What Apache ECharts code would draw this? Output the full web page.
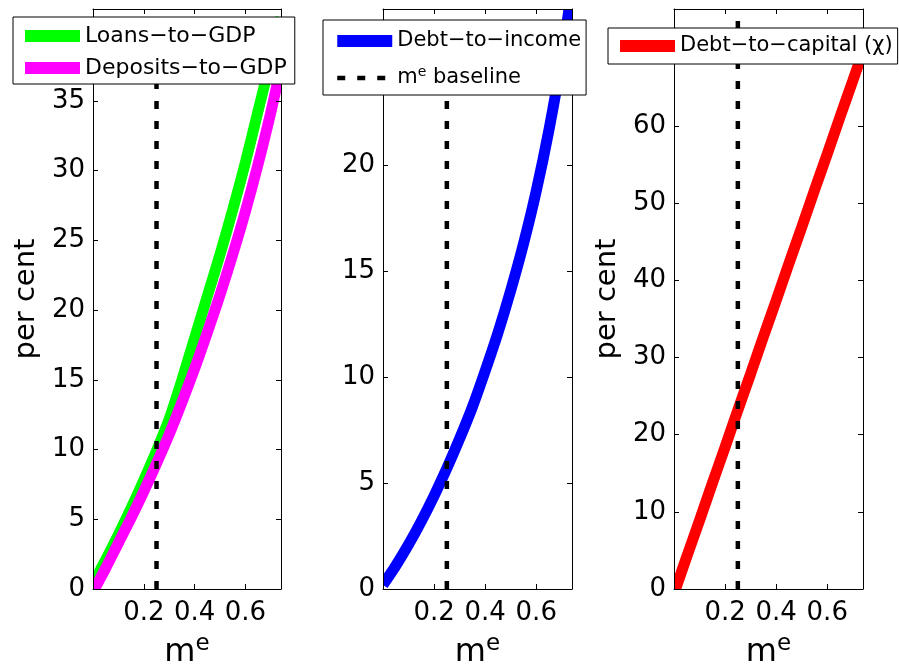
<!DOCTYPE html>
<html><head><meta charset="utf-8">
<script src="https://cdn.jsdelivr.net/npm/echarts@6/dist/echarts.min.js"></script>
<style>html,body{margin:0;padding:0;background:#fff}#c{width:899px;height:670px}</style>
</head><body><div id="c"></div>
<script>
// m^e values where the curves were read
const mValues = [0, 0.05, 0.1, 0.15, 0.2, 0.25, 0.3, 0.35, 0.4, 0.45, 0.5, 0.55, 0.6, 0.65, 0.7, 0.74];
const loansToGDP    = [0.4, 2.1, 3.9, 5.8, 7.8, 9.9, 12.2, 15.0, 18.0, 21.0, 24.0, 27.2, 30.6, 34.3, 38.0, 41.0];
const depositsToGDP = [-0.2, 1.5, 3.3, 5.1, 7.0, 9.0, 11.1, 13.4, 15.8, 18.4, 21.1, 24.0, 27.1, 30.5, 34.2, 37.5];
const debtToIncome  = [0.2, 1.1, 2.1, 3.2, 4.4, 5.7, 7.1, 8.6, 10.3, 12.1, 14.1, 16.3, 18.8, 21.7, 25.1, 28.4];
const debtToCapital = [-0.6, 4.2, 8.9, 13.7, 18.4, 23.2, 27.9, 32.7, 37.4, 42.2, 46.9, 51.7, 56.4, 61.2, 65.9, 69.7];
const mBaseline = 0.25;

// tick labels
const xTickLabels = [0.2, 0.4, 0.6];
const yTickLabels = [
  [0, 5, 10, 15, 20, 25, 30, 35],
  [0, 5, 10, 15, 20],
  [0, 10, 20, 30, 40, 50, 60]
];
const xMax = 0.74;
const yMax = [41.6, 27.4, 75.2];
const yInterval = [5, 5, 10];

const names = {
  loans: 'Loans\u2212to\u2212GDP',
  deposits: 'Deposits\u2212to\u2212GDP',
  income: 'Debt\u2212to\u2212income',
  capital: 'Debt\u2212to\u2212capital (\u03c7)',
  baseline: 'me baseline'
};

const FONT = 'DejaVu Sans';
const grids = [
  {left: 93, top: 9, width: 188, height: 580},
  {left: 383, top: 9, width: 189, height: 580},
  {left: 674, top: 9, width: 189, height: 580}
];

const xAxes = [], yAxes = [];
grids.forEach((g, i) => {
  ['bottom', 'top'].forEach(pos => {
    xAxes.push({
      type: 'value', gridIndex: i, position: pos, min: 0, max: xMax, interval: 0.2, z: 60,
      axisLine: {show: true, onZero: false, lineStyle: {color: '#000', width: 1}},
      axisTick: {show: true, inside: true, length: 5, lineStyle: {color: '#000'}},
      axisLabel: pos === 'bottom' ? {
        show: true, color: '#000', fontFamily: FONT, fontSize: 26, margin: 11,
        formatter: v => xTickLabels.some(t => Math.abs(t - v) < 1e-6) ? v.toFixed(1) : ''
      } : {show: false},
      splitLine: {show: false},
      name: pos === 'bottom' ? '{m|m}{e|e}' : '',
      nameLocation: 'middle', nameGap: 44,
      nameTextStyle: {
        color: '#000', fontFamily: FONT,
        rich: {
          m: {fontSize: 32, lineHeight: 40, fontFamily: FONT, color: '#000'},
          e: {fontSize: 23, lineHeight: 20, verticalAlign: 'top', fontFamily: FONT, color: '#000'}
        }
      }
    });
  });
  ['left', 'right'].forEach(pos => {
    yAxes.push({
      type: 'value', gridIndex: i, position: pos, min: 0, max: yMax[i], interval: yInterval[i], z: 60,
      axisLine: {show: true, onZero: false, lineStyle: {color: '#000', width: 1}},
      axisTick: {show: true, inside: true, length: 5, lineStyle: {color: '#000'}},
      axisLabel: pos === 'left' ? {
        show: true, color: '#000', fontFamily: FONT, fontSize: 26, margin: 8,
        formatter: v => yTickLabels[i].includes(v) ? String(v) : ''
      } : {show: false},
      splitLine: {show: false},
      name: (pos === 'left' && i !== 1) ? 'per cent' : '',
      nameLocation: 'middle', nameGap: 52,
      nameTextStyle: {color: '#000', fontFamily: FONT, fontSize: 29}
    });
  });
});

function pairs(vals) { return mValues.map((m, k) => [m, vals[k]]); }
function lineSeries(name, vals, color, panel) {
  return {
    type: 'line', name, data: pairs(vals), xAxisIndex: panel * 2, yAxisIndex: panel * 2,
    showSymbol: false, symbol: 'none', smooth: 0.3, clip: true, z: 2,
    lineStyle: {color, width: 11}, itemStyle: {color}
  };
}
function baselineSeries(panel) {
  return {
    type: 'line', name: names.baseline, data: [[mBaseline, 0], [mBaseline, yMax[panel]]],
    xAxisIndex: panel * 2, yAxisIndex: panel * 2, showSymbol: false, symbol: 'none', clip: true,
    lineStyle: {color: '#000', width: 4.5, type: [8, 12]}, itemStyle: {color: '#000'}, z: 3
  };
}

const series = [
  lineSeries(names.loans, loansToGDP, '#00ff00', 0),
  lineSeries(names.deposits, depositsToGDP, '#ff00ff', 0),
  baselineSeries(0),
  lineSeries(names.income, debtToIncome, '#0000ff', 1),
  baselineSeries(1),
  lineSeries(names.capital, debtToCapital, '#ff0000', 2),
  baselineSeries(2)
];

// white strips just outside each plot box, so thick lines are cut at the axes
const masks = [];
grids.forEach(g => {
  const pad = 7;
  const r = g.left + g.width, b = g.top + g.height;
  const t0 = Math.max(0, g.top - pad);
  [[g.left - pad, t0, g.width + 2 * pad, g.top - t0],
   [g.left - pad, b, g.width + 2 * pad, pad],
   [g.left - pad, t0, pad, b + pad - t0],
   [r, t0, pad, b + pad - t0]].forEach(s => masks.push({
    type: 'rect', z: 50, zlevel: 0, silent: true,
    shape: {x: s[0], y: s[1], width: s[2], height: s[3]},
    style: {fill: '#fff'}
  }));
});

const legendCommon = {
  orient: 'vertical', itemWidth: 55, itemHeight: 12,
  backgroundColor: '#fff', borderColor: '#000', borderWidth: 1, borderRadius: 0,
  selectedMode: false, z: 70
};

const option = {
  animation: false,
  backgroundColor: '#fff',
  grid: grids.map(g => Object.assign({containLabel: false, outerBoundsMode: 'none'}, g)),
  xAxis: xAxes,
  yAxis: yAxes,
  graphic: {elements: masks},
  legend: [
    Object.assign({}, legendCommon, {
      data: [{name: names.loans, icon: 'rect'}, {name: names.deposits, icon: 'rect'}],
      left: 13, top: 17, itemGap: 6, padding: [6, 8, 3, 12],
      textStyle: {fontFamily: FONT, fontSize: 22, color: '#000', lineHeight: 26}
    }),
    Object.assign({}, legendCommon, {
      data: [{name: names.income, icon: 'rect'},
             {name: names.baseline, itemStyle: {color: 'rgba(0,0,0,0)', borderWidth: 0, opacity: 0}}],
      left: 323, top: 20, itemGap: 11, padding: [8, 5, 4, 12],
      lineStyle: {width: 4.5},
      formatter: n => n === names.baseline ? '{m|m}{e|e}{m| baseline}' : n,
      textStyle: {
        fontFamily: FONT, fontSize: 21, color: '#000', lineHeight: 26,
        rich: {
          m: {fontFamily: FONT, fontSize: 21, color: '#000', lineHeight: 26},
          e: {fontFamily: FONT, fontSize: 14, color: '#000', lineHeight: 16, verticalAlign: 'top'}
        }
      }
    }),
    Object.assign({}, legendCommon, {
      data: [{name: names.capital, icon: 'rect'}],
      left: 608, top: 28, padding: [5, 5, 5, 12],
      textStyle: {fontFamily: FONT, fontSize: 21, color: '#000', lineHeight: 26}
    })
  ],
  series
};

const chart = echarts.init(document.getElementById('c'), null, {renderer: 'canvas'});
chart.setOption(option);
</script>
</body></html>
